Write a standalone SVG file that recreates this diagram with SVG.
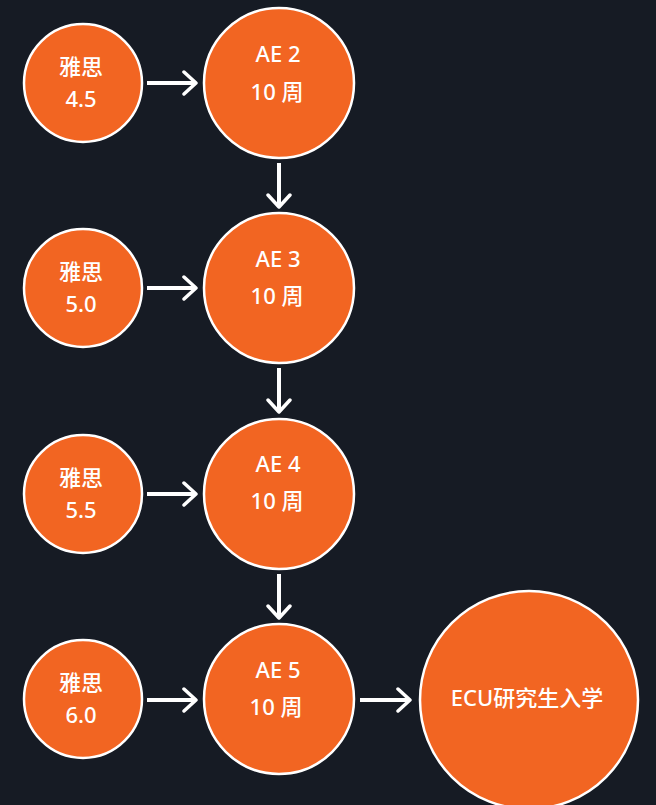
<svg xmlns="http://www.w3.org/2000/svg" width="656" height="805" viewBox="0 0 656 805">
<style>
.bg{fill:#161b24}
.node circle{fill:#f26522;stroke:#ffffff;stroke-width:2.5}
text{fill:#ffffff;font-family:"Noto Sans","Noto Sans CJK SC",sans-serif;font-size:22px;font-weight:500;text-anchor:middle}
.cjk{font-family:"Noto Sans CJK SC",sans-serif}
#connectors line{stroke:#ffffff;stroke-width:4;fill:none;marker-end:url(#arr)}
</style>
<defs>
<marker id="arr" markerUnits="userSpaceOnUse" viewBox="-14 -13 16 26" refX="0" refY="0" markerWidth="16" markerHeight="26" orient="auto">
<path d="M-12,-11 L0,0 L-12,11" fill="none" stroke="#ffffff" stroke-width="3.5" stroke-linecap="round" stroke-linejoin="round"/>
</marker>
</defs>
<rect class="bg" x="0" y="0" width="656" height="805"/>
<g id="connectors">
<line x1="147" y1="83" x2="196" y2="83"/>
<line x1="147" y1="288" x2="196" y2="288"/>
<line x1="147" y1="494" x2="196" y2="494"/>
<line x1="147" y1="700" x2="196" y2="700"/>
<line x1="279" y1="163" x2="279" y2="207"/>
<line x1="279" y1="368" x2="279" y2="412"/>
<line x1="279" y1="574" x2="279" y2="618"/>
<line x1="360" y1="700" x2="410" y2="700"/>
</g>
<g id="ielts45" class="node"><circle cx="83" cy="83" r="59"/><text class="cjk" x="81" y="75">雅思</text><text x="81" y="107">4.5</text></g>
<g id="ielts50" class="node"><circle cx="83" cy="288" r="59"/><text class="cjk" x="81" y="280">雅思</text><text x="81" y="312">5.0</text></g>
<g id="ielts55" class="node"><circle cx="83" cy="494" r="59"/><text class="cjk" x="81" y="486">雅思</text><text x="81" y="518">5.5</text></g>
<g id="ielts60" class="node"><circle cx="83" cy="699" r="59"/><text class="cjk" x="81" y="691">雅思</text><text x="81" y="723">6.0</text></g>
<g id="ae2" class="node"><circle cx="279" cy="83" r="75"/><text x="278" y="62">AE 2</text><text x="277" y="100">10 周</text></g>
<g id="ae3" class="node"><circle cx="279" cy="288" r="75"/><text x="278" y="267">AE 3</text><text x="277" y="304">10 周</text></g>
<g id="ae4" class="node"><circle cx="279" cy="494" r="75"/><text x="278" y="472">AE 4</text><text x="277" y="509">10 周</text></g>
<g id="ae5" class="node"><circle cx="279" cy="699" r="75"/><text x="278" y="678">AE 5</text><text x="276" y="715">10 周</text></g>
<g id="ecu" class="node"><circle cx="529" cy="700" r="109"/><text x="527" y="706">ECU研究生入学</text></g>
</svg>
